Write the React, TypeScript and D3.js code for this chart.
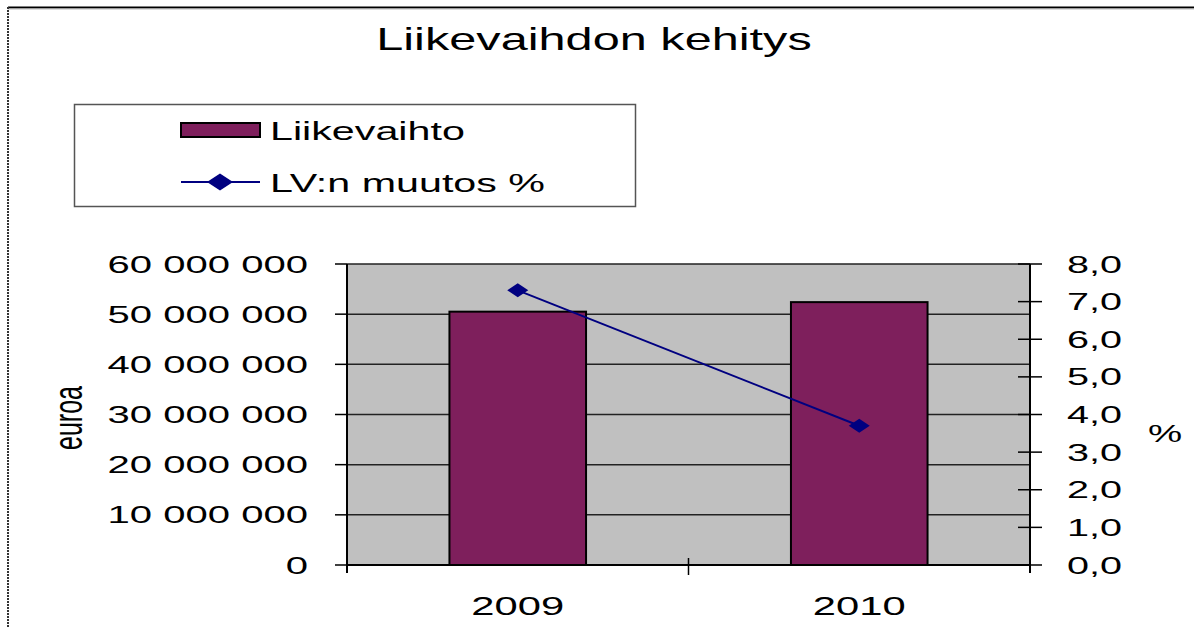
import React from "react";
import * as d3 from "d3";

const categories = ["2009", "2010"];
const revenue = [50500000, 52400000];
const changePct = [7.3, 3.7];
const leftTicks = [0, 10000000, 20000000, 30000000, 40000000, 50000000, 60000000];
const rightTicks = [0, 1, 2, 3, 4, 5, 6, 7, 8];
const title = "Liikevaihdon kehitys";
const seriesNames = ["Liikevaihto", "LV:n muutos %"];
const leftAxisTitle = "euroa";
const rightAxisTitle = "%";

const W = 1194;
const H = 628;
const FONT = "'Liberation Sans', Arial, sans-serif";
const BAR = "#7E1F5C";
const LINE = "#000080";
const PLOT_BG = "#C0C0C0";

const fi = d3.formatLocale({ decimal: ",", thousands: " ", grouping: [3], currency: ["", " €"] });
const fmtLeft = fi.format(",d");
const fmtRight = fi.format(".1f");

function SText({ x, y, sx, anchor = "start", size, children, rotate = 0, baseline }: any) {
  return (
    <text
      transform={`translate(${x},${y}) scale(${sx},1)${rotate ? ` rotate(${rotate})` : ""}`}
      textAnchor={anchor}
      fontSize={size}
      fontFamily={FONT}
      fill="#000"
      dominantBaseline={baseline}
    >
      {children}
    </text>
  );
}

function diamond(cx: number, cy: number, w: number, h: number) {
  return `M${cx - w / 2},${cy} L${cx},${cy - h / 2} L${cx + w / 2},${cy} L${cx},${cy + h / 2} Z`;
}

export default function App() {
  const x0 = 347, x1 = 1030, yTop = 264, yBot = 565;
  const xCat = d3.scaleBand().domain(categories).range([x0, x1]);
  const xBar = d3.scaleBand().domain(categories).range([x0, x1]).paddingInner(0.6).paddingOuter(0.3);
  const yL = d3.scaleLinear().domain([0, 60000000]).range([yBot, yTop]);
  const yR = d3.scaleLinear().domain([0, 8]).range([yBot, yTop]);
  const lineGen = d3
    .line<number>()
    .x((_, i) => (xCat(categories[i]) as number) + xCat.bandwidth() / 2)
    .y((d) => yR(d));

  return (
    <svg width={W} height={H} style={{ position: "absolute", left: 0, top: 0, display: "block", background: "#fff" }}>
      <rect x={0} y={0} width={W} height={H} fill="#fff" />
      {/* outer frame */}
      <line x1={8} x2={W} y1={7.5} y2={7.5} stroke="#000" strokeWidth={2} />
      <line x1={8} x2={W} y1={9} y2={9} stroke="#bbb" strokeWidth={1} />
      <line x1={8} x2={8} y1={7} y2={H} stroke="#333" strokeWidth={2} strokeDasharray="2,1" />

      {/* title */}
      <SText x={594} y={50} sx={1.57} anchor="middle" size={31}>{title}</SText>

      {/* legend */}
      <rect x={74.5} y={104.5} width={561} height={102} fill="#fff" stroke="#555" strokeWidth={1.5} />
      <rect x={181} y={123} width={79} height={14} fill={BAR} stroke="#000" strokeWidth={2} />
      <SText x={270} y={140} sx={1.65} size={25}>{seriesNames[0]}</SText>
      <line x1={181} x2={260} y1={182} y2={182} stroke={LINE} strokeWidth={2} />
      <path d={diamond(220, 182, 26, 17)} fill={LINE} />
      <SText x={270} y={192} sx={1.65} size={25}>{seriesNames[1]}</SText>

      {/* plot area */}
      <rect x={x0} y={yTop} width={x1 - x0} height={yBot - yTop} fill={PLOT_BG} />
      {leftTicks.map((t) => (
        <line key={"g" + t} x1={x0} x2={x1} y1={yL(t)} y2={yL(t)} stroke="#222" strokeWidth={1.5} />
      ))}

      {/* bars */}
      {categories.map((c, i) => (
        <rect
          key={c}
          x={xBar(c)}
          y={yL(revenue[i])}
          width={xBar.bandwidth()}
          height={yBot - yL(revenue[i])}
          fill={BAR}
          stroke="#000"
          strokeWidth={2}
        />
      ))}

      {/* axes */}
      <line x1={x0} x2={x0} y1={yTop} y2={573} stroke="#000" strokeWidth={2} />
      {leftTicks.map((t) => (
        <line key={"lt" + t} x1={335} x2={x0} y1={yL(t)} y2={yL(t)} stroke="#000" strokeWidth={1.5} />
      ))}
      <line x1={x1} x2={x1} y1={yTop} y2={573} stroke="#000" strokeWidth={2} />
      {rightTicks.map((t) => (
        <line key={"rt" + t} x1={1018} x2={1042} y1={yR(t)} y2={yR(t)} stroke="#000" strokeWidth={1.5} />
      ))}
      <line x1={x0} x2={x1} y1={yBot} y2={yBot} stroke="#000" strokeWidth={2} />
      {categories.slice(1).map((c) => (
        <line key={"ct" + c} x1={xCat(c)} x2={xCat(c)} y1={558} y2={575} stroke="#000" strokeWidth={1.5} />
      ))}

      {/* line series */}
      <path d={lineGen(changePct) || ""} fill="none" stroke={LINE} strokeWidth={2} />
      {changePct.map((v, i) => (
        <path
          key={"m" + i}
          d={diamond((xCat(categories[i]) as number) + xCat.bandwidth() / 2, yR(v), 21, 14)}
          fill={LINE}
        />
      ))}

      {/* tick labels */}
      {leftTicks.map((t) => (
        <SText key={"ll" + t} x={308} y={yL(t) + 8.5} sx={1.67} anchor="end" size={24}>
          {fmtLeft(t)}
        </SText>
      ))}
      {rightTicks.map((t) => (
        <SText key={"rl" + t} x={1067} y={yR(t) + 8.5} sx={1.65} size={24}>
          {fmtRight(t)}
        </SText>
      ))}
      {categories.map((c) => (
        <SText key={"cl" + c} x={(xCat(c) as number) + xCat.bandwidth() / 2} y={615} sx={1.67} anchor="middle" size={25}>
          {c}
        </SText>
      ))}

      {/* axis titles */}
      <SText x={82} y={418} sx={1.65} anchor="middle" size={25} rotate={-90}>{leftAxisTitle}</SText>
      <SText x={1165} y={442} sx={1.6} anchor="middle" size={24}>{rightAxisTitle}</SText>
    </svg>
  );
}
